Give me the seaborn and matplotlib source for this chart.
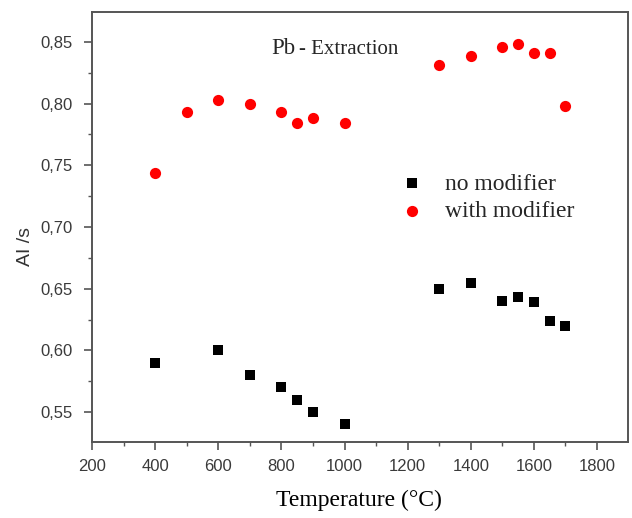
import numpy as np
import pandas as pd
import matplotlib
matplotlib.use("Agg")
import matplotlib.pyplot as plt
from matplotlib.ticker import MultipleLocator, FuncFormatter
import seaborn as sns

# === data ===
temp_no_mod = [400, 600, 700, 800, 850, 900, 1000, 1300, 1400, 1500, 1550, 1600, 1650, 1700]
ai_no_mod = [0.590, 0.600, 0.580, 0.570, 0.560, 0.550, 0.540, 0.650, 0.655, 0.640, 0.643, 0.639, 0.624, 0.620]

temp_with_mod = [400, 500, 600, 700, 800, 850, 900, 1000, 1300, 1400, 1500, 1550, 1600, 1650, 1700]
ai_with_mod = [0.744, 0.793, 0.803, 0.800, 0.793, 0.784, 0.788, 0.784, 0.831, 0.839, 0.846, 0.848, 0.841, 0.841, 0.798]

no_mod = pd.DataFrame({"Temperature": temp_no_mod, "AI": ai_no_mod})
with_mod = pd.DataFrame({"Temperature": temp_with_mod, "AI": ai_with_mod})

# === style ===
sns.set_theme(style="ticks")
plt.rcParams["font.family"] = ["Liberation Sans Narrow", "DejaVu Sans Condensed", "Liberation Sans", "DejaVu Sans"]
serif = ["Liberation Serif", "DejaVu Serif"]

fig = plt.figure(figsize=(6.32, 5.18), dpi=100)
ax = fig.add_axes([92 / 632, 1 - 442 / 518, 536 / 632, 430 / 518])

sns.scatterplot(data=no_mod, x="Temperature", y="AI", ax=ax, marker="s",
                color="black", s=50, linewidth=0, label="no modifier")
sns.scatterplot(data=with_mod, x="Temperature", y="AI", ax=ax, marker="o",
                color="#ff0000", s=65, linewidth=0, label="with modifier")

ax.set_xlim(200, 1898)
ax.set_ylim(0.5257, 0.8743)

ax.xaxis.set_major_locator(MultipleLocator(200))
ax.xaxis.set_minor_locator(MultipleLocator(100))
ax.yaxis.set_major_locator(MultipleLocator(0.05))
ax.yaxis.set_minor_locator(MultipleLocator(0.025))
ax.yaxis.set_major_formatter(FuncFormatter(lambda v, pos: f"{v:.2f}".replace(".", ",")))

for sp in ax.spines.values():
    sp.set_color("#555555")
    sp.set_linewidth(1.4)

ax.tick_params(which="major", length=6, width=1.2, color="#555555",
               labelsize=12, labelcolor="#3a3a3a")
ax.tick_params(which="minor", length=3, width=1.0, color="#555555")
ax.tick_params(axis="y", which="major", pad=8)
ax.tick_params(axis="x", which="major", pad=6)

# axis labels
ax.set_ylabel("AI /s", fontsize=14, color="#333333", va="center")
ax.yaxis.set_label_coords(-0.125, 0.454)
ax.set_xlabel("Temperature (°C)", fontsize=17, family=serif, color="black", va="center")
ax.xaxis.set_label_coords(0.498, -0.135)

# annotation "Pb - Extraction"
pb = ax.text((271 - 92) / 536, (442 - 54) / 430, "Pb", transform=ax.transAxes,
             fontsize=16.5, family=serif, va="baseline", ha="left")
ax.annotate("- Extraction", xy=(1, 0), xycoords=pb, xytext=(3, 0),
            textcoords="offset points", fontsize=15, family=serif,
            va="bottom", ha="left")

# legend
leg = ax.legend(loc="upper left", bbox_to_anchor=((400 - 92) / 536, (442 - 173) / 430),
                frameon=False, prop={"family": serif, "size": 17},
                handlelength=1.0, handletextpad=0.9, labelspacing=0.25,
                borderpad=0, borderaxespad=0, markerscale=1.0)

plt.savefig("out.png", dpi=100)
